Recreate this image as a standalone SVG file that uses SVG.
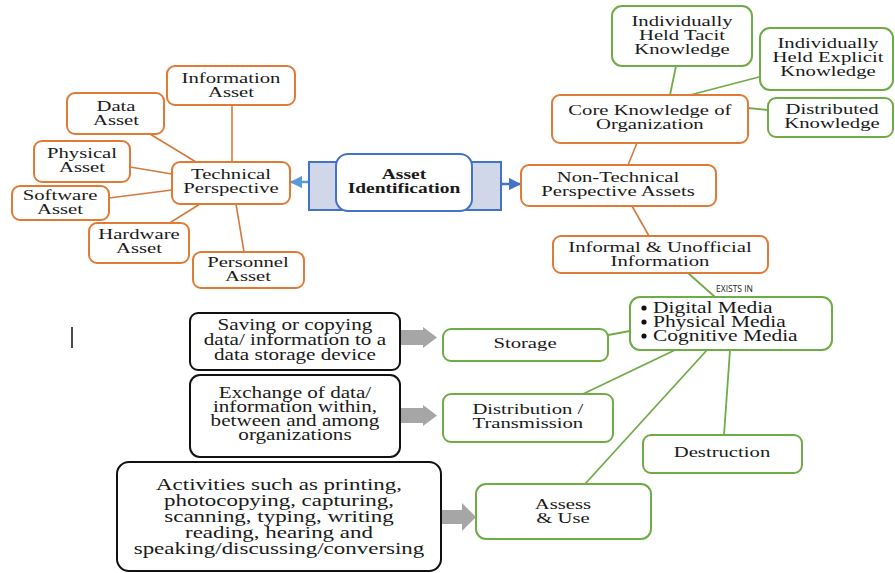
<svg xmlns="http://www.w3.org/2000/svg" width="895" height="573" viewBox="0 0 895 573">
<defs>
<style>
.t{font-family:'Liberation Serif','DejaVu Serif',serif;font-size:15px;text-anchor:middle;fill:#1a1a1a;transform-box:fill-box;transform-origin:center;transform:scaleX(1.38)}
.b{font-weight:bold;transform:scaleX(1.3)}
.l{text-anchor:start;transform-origin:left center;font-size:16px;transform:scaleX(1.34)}
.big{font-size:16px;transform:scaleX(1.32)}
.huge{font-size:17px;transform:scaleX(1.35)}
.s{font-family:'Open Sans','DejaVu Sans',sans-serif;font-size:8.5px;fill:#222}
.o{fill:#fff;stroke:#e07a35;stroke-width:2}
.g{fill:#fff;stroke:#6fab46;stroke-width:2}
.k{fill:#fff;stroke:#111;stroke-width:2}
.ol{stroke:#d37a3e;stroke-width:1.6;fill:none}
.gl{stroke:#6fab46;stroke-width:1.8;fill:none}
.ga{fill:#a6a6a6}
</style>
<marker id="ab" viewBox="0 0 10 10" refX="9" refY="5" markerWidth="5" markerHeight="5" orient="auto"><path d="M0,0L10,5L0,10z" fill="#4472c4"/></marker>
<marker id="al" viewBox="0 0 10 10" refX="9" refY="5" markerWidth="5" markerHeight="5" orient="auto"><path d="M0,0L10,5L0,10z" fill="#5b9bd5"/></marker>
</defs>
<rect width="895" height="573" fill="#fff"/>

<g id="connectors">
<line class="ol" x1="232" y1="105" x2="232" y2="162"/>
<line class="ol" x1="150" y1="134" x2="196" y2="162"/>
<line class="ol" x1="130" y1="167" x2="172" y2="174"/>
<line class="ol" x1="109" y1="198" x2="172" y2="190"/>
<line class="ol" x1="168" y1="224" x2="200" y2="204"/>
<line class="ol" x1="244" y1="252" x2="236" y2="204"/>
<line class="ol" x1="637" y1="143" x2="628" y2="165"/>
<line class="ol" x1="632" y1="206" x2="649" y2="236"/>
<line class="gl" x1="676" y1="66" x2="670" y2="95"/>
<line class="gl" x1="759" y1="77" x2="690" y2="95"/>
<line class="gl" x1="748" y1="108" x2="768" y2="110"/>
<line class="gl" x1="688" y1="273" x2="715" y2="297"/>
<line class="gl" x1="608" y1="335" x2="630" y2="331"/>
<line class="gl" x1="583" y1="394" x2="675" y2="350"/>
<line class="gl" x1="707" y1="350" x2="585" y2="484"/>
<line class="gl" x1="730" y1="350" x2="724" y2="435"/>
<line x1="318" y1="182" x2="291" y2="182" stroke="#5b9bd5" stroke-width="2.5" marker-end="url(#al)"/>
<line x1="501" y1="184" x2="520" y2="184" stroke="#4472c4" stroke-width="2.5" marker-end="url(#ab)"/>
<path class="ga" d="M400,330H423V327L437,337.5L423,348V345H400Z"/>
<path class="ga" d="M400,408H423V405L437,415.5L423,426V423H400Z"/>
<path class="ga" d="M441,510H462V503L476,517L462,531V524H441Z"/>
<text class="s" x="716" y="292">EXISTS IN</text>
</g>

<g id="asset-identification">
<rect x="309" y="162" width="192" height="48" fill="#d0d7e9" stroke="#4472c4" stroke-width="2"/>
<rect x="336" y="154" width="136" height="57" rx="12" fill="#fff" stroke="#4472c4" stroke-width="2"/>
<text class="t b"><tspan x="404" y="179">Asset</tspan><tspan x="404" y="193">Identification</tspan></text>
</g>

<g id="technical-perspective">
<rect class="o" x="172" y="162" width="118" height="42" rx="8"/>
<text class="t"><tspan x="231" y="179">Technical</tspan><tspan x="231" y="193">Perspective</tspan></text>
</g>
<g id="information-asset">
<rect class="o" x="167" y="66" width="128" height="39" rx="8"/>
<text class="t"><tspan x="231" y="83">Information</tspan><tspan x="231" y="97">Asset</tspan></text>
</g>
<g id="data-asset">
<rect class="o" x="67" y="93" width="97" height="41" rx="8"/>
<text class="t"><tspan x="116" y="111">Data</tspan><tspan x="116" y="125">Asset</tspan></text>
</g>
<g id="physical-asset">
<rect class="o" x="34" y="141" width="96" height="41" rx="8"/>
<text class="t"><tspan x="82" y="158">Physical</tspan><tspan x="82" y="172">Asset</tspan></text>
</g>
<g id="software-asset">
<rect class="o" x="12" y="186" width="97" height="34" rx="8"/>
<text class="t"><tspan x="60" y="200">Software</tspan><tspan x="60" y="214">Asset</tspan></text>
</g>
<g id="hardware-asset">
<rect class="o" x="89" y="223" width="100" height="40" rx="8"/>
<text class="t"><tspan x="139" y="239">Hardware</tspan><tspan x="139" y="253">Asset</tspan></text>
</g>
<g id="personnel-asset">
<rect class="o" x="193" y="252" width="111" height="36" rx="8"/>
<text class="t"><tspan x="248" y="267">Personnel</tspan><tspan x="248" y="281">Asset</tspan></text>
</g>

<g id="non-technical">
<rect class="o" x="521" y="165" width="195" height="41" rx="8"/>
<text class="t"><tspan x="618" y="182">Non-Technical</tspan><tspan x="618" y="196">Perspective Assets</tspan></text>
</g>
<g id="core-knowledge">
<rect class="o" x="552" y="95" width="196" height="48" rx="8"/>
<text class="t"><tspan x="650" y="115">Core Knowledge of</tspan><tspan x="650" y="129">Organization</tspan></text>
</g>
<g id="tacit">
<rect class="g" x="612" y="6" width="140" height="60" rx="10"/>
<text class="t"><tspan x="682" y="26">Individually</tspan><tspan x="682" y="40">Held Tacit</tspan><tspan x="682" y="54">Knowledge</tspan></text>
</g>
<g id="explicit">
<rect class="g" x="760" y="28" width="133" height="62" rx="10"/>
<text class="t"><tspan x="828" y="48">Individually</tspan><tspan x="828" y="62">Held Explicit</tspan><tspan x="828" y="76">Knowledge</tspan></text>
</g>
<g id="distributed">
<rect class="g" x="768" y="98" width="125" height="39" rx="8"/>
<text class="t"><tspan x="832" y="114">Distributed</tspan><tspan x="832" y="128">Knowledge</tspan></text>
</g>
<g id="informal">
<rect class="o" x="553" y="236" width="215" height="37" rx="8"/>
<text class="t"><tspan x="660" y="252">Informal &amp; Unofficial</tspan><tspan x="660" y="266">Information</tspan></text>
</g>
<g id="media">
<rect class="g" x="630" y="297" width="202" height="53" rx="10"/>
<circle cx="644" cy="308" r="2.6" fill="#111"/>
<circle cx="644" cy="322" r="2.6" fill="#111"/>
<circle cx="644" cy="336" r="2.6" fill="#111"/>
<text class="t l"><tspan x="653" y="313">Digital Media</tspan><tspan x="653" y="327">Physical Media</tspan><tspan x="653" y="341">Cognitive Media</tspan></text>
</g>
<g id="storage">
<rect class="g" x="443" y="329" width="165" height="32" rx="8"/>
<text class="t" x="525" y="348">Storage</text>
</g>
<g id="distribution">
<rect class="g" x="443" y="394" width="170" height="48" rx="8"/>
<text class="t"><tspan x="528" y="414">Distribution /</tspan><tspan x="528" y="428">Transmission</tspan></text>
</g>
<g id="destruction">
<rect class="g" x="643" y="435" width="159" height="38" rx="8"/>
<text class="t" x="722" y="457">Destruction</text>
</g>
<g id="assess-use">
<rect class="g" x="476" y="484" width="175" height="55" rx="10"/>
<text class="t"><tspan x="563" y="509">Assess</tspan><tspan x="563" y="523">&amp; Use</tspan></text>
</g>
<g id="saving">
<rect class="k" x="190" y="313" width="210" height="57" rx="8"/>
<text class="t big"><tspan x="295" y="330">Saving or copying</tspan><tspan x="295" y="345">data/ information to a</tspan><tspan x="295" y="360">data storage device</tspan></text>
</g>
<g id="exchange">
<rect class="k" x="190" y="375" width="210" height="82" rx="10"/>
<text class="t big"><tspan x="295" y="398">Exchange of data/</tspan><tspan x="295" y="412">information within,</tspan><tspan x="295" y="426">between and among</tspan><tspan x="295" y="440">organizations</tspan></text>
</g>
<g id="activities">
<rect class="k" x="117" y="462" width="324" height="109" rx="12"/>
<text class="t huge"><tspan x="279" y="490">Activities such as printing,</tspan><tspan x="279" y="506">photocopying, capturing,</tspan><tspan x="279" y="522">scanning, typing, writing</tspan><tspan x="279" y="538">reading, hearing and</tspan><tspan x="279" y="554">speaking/discussing/conversing</tspan></text>
</g>
<line x1="72" y1="327" x2="72" y2="348" stroke="#111" stroke-width="1.5"/>
</svg>
